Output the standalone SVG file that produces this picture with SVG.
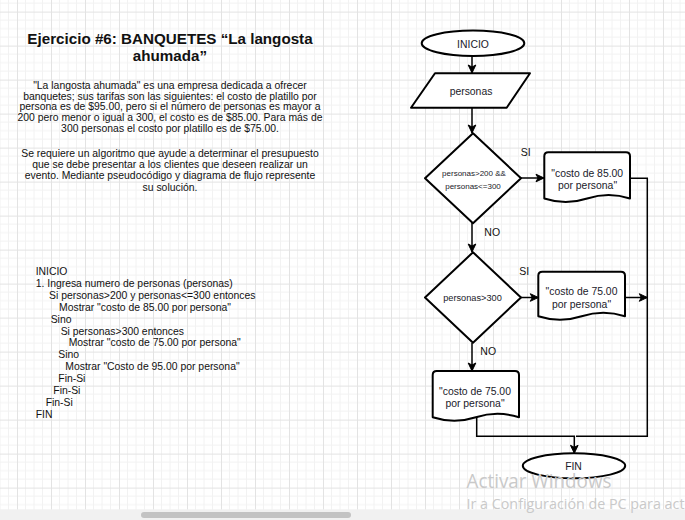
<svg xmlns="http://www.w3.org/2000/svg" width="685" height="520" viewBox="0 0 685 520">
<defs>
<pattern id="grid" x="17" y="11.6" width="34" height="34" patternUnits="userSpaceOnUse">
<path d="M8.5,0V34M17,0V34M25.5,0V34M0,8.5H34M0,17H34M0,25.5H34" stroke="#f2f2f2" stroke-width="1" fill="none"/>
<path d="M0.5,0V34M0,0.5H34" stroke="#e3e3e3" stroke-width="1" fill="none"/>
</pattern>
<marker id="arr" markerUnits="userSpaceOnUse" markerWidth="10" markerHeight="10" viewBox="0 0 10 10" refX="9" refY="5" orient="auto">
<path d="M1,1.2 L9,5 L1,8.8 L3,5 Z" fill="#000" stroke="#000" stroke-width="1" stroke-linejoin="miter"/>
</marker>
</defs>
<style>
.t{font-family:"Liberation Sans",Arial,sans-serif;fill:#111;}
.title{font-size:15.2px;font-weight:bold;text-anchor:middle;}
.p{font-size:10.4px;text-anchor:middle;}
.c{font-size:10.4px;}
.n{font-size:10.4px;text-anchor:middle;fill:#1a1a2a;}
.s{font-size:8px;text-anchor:middle;fill:#1a1a2a;}
.shape{fill:#fff;stroke:#000;stroke-width:2;stroke-linejoin:round;}
.edge{fill:none;stroke:#000;stroke-width:1.5;}
.wm{font-family:"Open Sans","Noto Sans",sans-serif;fill:#c9c9c9;}
</style>
<rect width="685" height="520" fill="#fff"/>
<rect width="685" height="520" fill="url(#grid)"/>

<g id="enunciado">
<text class="t title" x="170" y="44.3">Ejercicio #6: BANQUETES “La langosta</text>
<text class="t title" x="170" y="60.5">ahumada”</text>
<text class="t p" x="170" y="88.8">"La langosta ahumada" es una empresa dedicada a ofrecer</text>
<text class="t p" x="170" y="99.6">banquetes; sus tarifas son las siguientes: el costo de platillo por</text>
<text class="t p" x="170" y="110.4">persona es de $95.00, pero si el número de personas es mayor a</text>
<text class="t p" x="170" y="121.2">200 pero menor o igual a 300, el costo es de $85.00. Para más de</text>
<text class="t p" x="170" y="132">300 personas el costo por platillo es de $75.00.</text>
<text class="t p" x="170" y="157.2">Se requiere un algoritmo que ayude a determinar el presupuesto</text>
<text class="t p" x="170" y="168.3">que se debe presentar a los clientes que deseen realizar un</text>
<text class="t p" x="170" y="179.4">evento. Mediante pseudocódigo y diagrama de flujo represente</text>
<text class="t p" x="170" y="190.5">su solución.</text>
</g>

<g id="pseudocodigo">
<text class="t c" x="35.7" y="275">INICIO</text>
<text class="t c" x="35.7" y="286.8">1. Ingresa numero de personas (personas)</text>
<text class="t c" x="49" y="298.7">Si personas&gt;200 y personas&lt;=300 entonces</text>
<text class="t c" x="59" y="310.6">Mostrar "costo de 85.00 por persona"</text>
<text class="t c" x="50.7" y="322.6">Sino</text>
<text class="t c" x="60.7" y="334.5">Si personas&gt;300 entonces</text>
<text class="t c" x="68.7" y="346.4">Mostrar "costo de 75.00 por persona"</text>
<text class="t c" x="58.3" y="358.4">Sino</text>
<text class="t c" x="65.3" y="370.3">Mostrar "Costo de 95.00 por persona"</text>
<text class="t c" x="58.3" y="382.2">Fin-Si</text>
<text class="t c" x="53.3" y="394.1">Fin-Si</text>
<text class="t c" x="45.7" y="406">Fin-Si</text>
<text class="t c" x="35.7" y="417.9">FIN</text>
</g>

<g id="connectors">
<line class="edge" x1="472" y1="56" x2="472" y2="73" marker-end="url(#arr)"/>
<line class="edge" x1="472" y1="108" x2="472" y2="133" marker-end="url(#arr)"/>
<line class="edge" x1="521" y1="178" x2="544" y2="178" marker-end="url(#arr)"/>
<line class="edge" x1="472" y1="223" x2="472" y2="252" marker-end="url(#arr)"/>
<line class="edge" x1="521" y1="297.5" x2="538.3" y2="297.5" marker-end="url(#arr)"/>
<line class="edge" x1="472" y1="343" x2="472" y2="371" marker-end="url(#arr)"/>
<polyline class="edge" points="630,178.3 647.3,178.3 647.3,436.3 576,436.3"/>
<line class="edge" x1="625" y1="297.5" x2="647.3" y2="297.5" marker-end="url(#arr)"/>
<polyline class="edge" points="476.7,417 476.7,436.3 574.3,436.3 574.3,453.3" marker-end="url(#arr)"/>
<text class="t" x="520.7" y="156" style="font-size:10.5px">SI</text>
<text class="t" x="484.3" y="236" style="font-size:10.5px">NO</text>
<text class="t" x="519.3" y="275" style="font-size:10.5px">SI</text>
<text class="t" x="480.3" y="355" style="font-size:10.5px">NO</text>
</g>

<g id="inicio">
<ellipse class="shape" cx="473" cy="43.3" rx="51.3" ry="12.7"/>
<text class="t n" x="473" y="47.8">INICIO</text>
</g>

<g id="entrada">
<polygon class="shape" points="435,73.3 530,73.3 506.7,107.7 411,107.7"/>
<text class="t n" x="471" y="95">personas</text>
</g>

<g id="decision1">
<polygon class="shape" points="473,133.3 521,178.3 473,223.3 425,178.3"/>
<text class="t s" x="474" y="176">personas&gt;200 &amp;&amp;</text>
<text class="t s" x="473" y="188.5">personas&lt;=300</text>
</g>

<g id="salida1">
<path class="shape" d="M544.3,198.5 L544.3,156.3 Q544.3,152.3 548.3,152.3 L626,152.3 Q630,152.3 630,156.3 L630,198.5 Q608.6,191.5 587.2,198.5 Q565.7,205.5 544.3,198.5 Z"/>
<text class="t n" x="587.2" y="176.5">"costo de 85.00</text>
<text class="t n" x="587.5" y="188.5">por persona"</text>
</g>

<g id="decision2">
<polygon class="shape" points="473,252.3 521,297.5 473,342.7 425,297.5"/>
<text class="t s" x="472.5" y="301.3" style="font-size:9.2px">personas&gt;300</text>
</g>

<g id="salida2">
<path class="shape" d="M538.3,316.3 L538.3,275.7 Q538.3,271.7 542.3,271.7 L621,271.7 Q625,271.7 625,275.7 L625,316.3 Q603.3,309.3 581.7,316.3 Q560,323.3 538.3,316.3 Z"/>
<text class="t n" x="581.5" y="294.8">"costo de 75.00</text>
<text class="t n" x="581.5" y="307.5">por persona"</text>
</g>

<g id="salida3">
<path class="shape" d="M432.7,417.3 L432.7,375 Q432.7,371 436.7,371 L515,371 Q519,371 519,375 L519,417.3 Q497.4,410.3 475.9,417.3 Q454.3,424.3 432.7,417.3 Z"/>
<text class="t n" x="475" y="395">"costo de 75.00</text>
<text class="t n" x="475" y="406.5">por persona"</text>
</g>

<g id="fin">
<ellipse class="shape" cx="574" cy="465.8" rx="51.2" ry="12.5"/>
<text class="t n" x="573.5" y="470">FIN</text>
</g>

<rect x="0" y="509.3" width="685" height="10.7" fill="#f1f1f1"/>
<rect x="141" y="512" width="210" height="6" rx="3" fill="#c3c3c3"/>
<text class="wm" x="466.5" y="488" style="font-size:20.5px" textLength="145" lengthAdjust="spacingAndGlyphs">Activar Windows</text>
<text class="wm" x="466.5" y="508.5" style="font-size:14.5px" textLength="218" lengthAdjust="spacingAndGlyphs">Ir a Configuración de PC para act</text>
</svg>
